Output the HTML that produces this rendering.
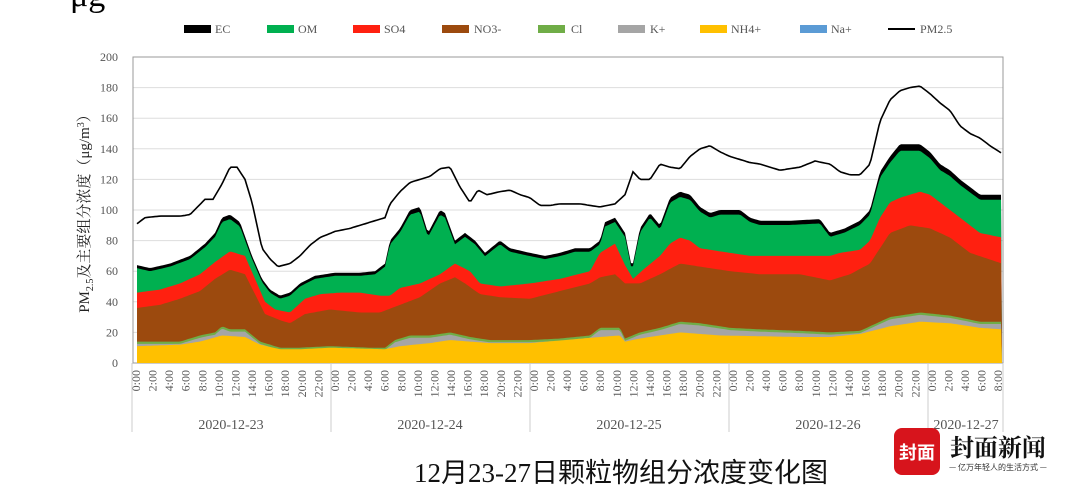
<!DOCTYPE html>
<html><head><meta charset="utf-8"><style>
body{margin:0;background:#fff;width:1080px;height:499px;overflow:hidden;}
svg{display:block}
</style></head><body>
<div id="w"></div>
<script>
(function(){
let h='';
const Y=v=>363-v*1.53;
h+=`<text x="70" y="6" font-size="34" fill="#000">μg</text>`;
for(let v=0;v<=200;v+=20){h+=`<line x1="133" x2="1003" y1="${Y(v)}" y2="${Y(v)}" stroke="${v==0?'#bbb':'#ddd'}" stroke-width="1"/>`;
h+=`<text x="118" y="${Y(v)+4}" font-size="12" fill="#555" text-anchor="end">${v}</text>`;}
h+=`<rect x="133" y="57" width="870" height="306" fill="none" stroke="#999" stroke-width="1"/>`;
function interp(a,x){for(let i=0;i<a.length-1;i++){if(x>=a[i][0]&&x<=a[i+1][0]){const t=(x-a[i][0])/(a[i+1][0]-a[i][0]);return a[i][1]+t*(a[i+1][1]-a[i][1]);}}return x<a[0][0]?a[0][1]:a[a.length-1][1];}
function parse(s){const r=[];s.trim().split(/,\s*/).forEach(t=>{const q=t.split(':');r.push([+q[0],+q[1]]);});return r;}
const pm=parse("137:91,145:95,160:96,180:96,190:97,205:107,213:107,222:117,230:128,237:128,245:120,252:105,262:75,270:68,278:63,290:65,300:70,310:77,320:82,335:86,350:88,360:90,375:93,385:95,390:104,400:112,410:118,420:120,430:122,440:127,450:128,460:115,470:105,478:113,487:110,500:112,510:113,520:110,530:108,540:103,550:103,560:104,580:104,600:102,615:104,625:110,633:125,640:120,650:120,660:130,670:128,680:127,690:135,700:140,710:142,720:138,730:135,740:133,750:131,760:130,770:128,780:126,790:127,800:128,815:132,830:130,840:125,850:123,860:123,870:130,880:158,890:172,900:178,910:180,920:181,930:176,940:170,950:165,960:155,970:150,980:147,990:142,1002:137");
const ec=parse("137:64,150:62,170:65,190:70,205:78,215:85,222:95,230:97,240:92,252:70,262:55,270:48,280:44,290:46,300:52,315:57,335:59,360:59,375:60,385:65,390:80,400:88,410:100,420:102,428:85,440:100,445:98,455:80,465:85,475:80,485:72,500:80,510:75,530:72,545:70,560:72,575:75,590:75,600:80,605:92,615:95,625:85,632:62,640:88,650:98,660:90,670:108,680:112,690:110,700:102,710:98,720:100,740:100,750:95,760:93,790:93,820:94,830:85,845:88,860:93,870:100,880:125,890:135,900:143,910:143,920:143,930:138,940:130,950:126,960:120,970:115,980:110,1002:110");
const so=parse("137:46,160:48,180:52,200:58,215:66,230:73,245:70,255:55,265:40,275:35,290:33,305:42,320:45,340:46,360:46,380:44,390:44,400:49,420:52,440:58,455:65,470:60,480:52,500:50,530:52,560:55,590:60,600:72,615:78,625:64,633:55,645:62,660:70,670:78,680:82,690:80,700:75,720:73,750:70,800:70,830:70,840:72,860:74,870:80,880:95,890:105,900:108,910:110,920:112,930:110,940:105,960:95,980:85,1002:82");
const no=parse("137:36,160:38,180:42,200:47,215:55,230:61,245:58,255:45,265:32,280:28,290:26,305:32,330:35,360:33,380:33,400:38,420:43,440:52,455:56,465:52,480:45,500:43,530:42,560:47,590:52,600:56,615:58,625:52,640:52,660:58,680:65,700:63,730:60,760:58,800:58,830:54,850:58,870:65,880:75,890:85,910:90,930:88,950:82,970:72,1002:65");
const cl=parse("137:14,180:14,200:18,215:20,222:24,230:22,245:22,260:14,280:10,300:10,330:11,370:10,385:10,395:15,410:18,430:18,450:20,470:17,490:15,530:15,560:16,590:18,600:23,620:23,625:16,640:20,660:23,680:27,700:26,730:23,760:22,800:21,830:20,860:21,870:24,890:30,920:33,950:31,980:27,1002:27");
const nh=parse("137:11,180:12,200:14,222:18,245:17,260:12,280:9,300:9,330:10,385:9,400:11,430:13,450:15,470:14,490:13,530:13,600:17,620:18,625:14,640:16,680:20,720:18,800:17,830:17,860:19,890:24,920:27,950:26,980:23,1002:22");
const xs=[];for(let x=137;x<=1002;x+=2)xs.push(x);
function curve(f){return xs.map(x=>[x,Y(f(x))]);}
function area(f,col){const pts=curve(f);let d=pts.map(p=>p[0]+','+p[1].toFixed(1)).join(' ');d+=' 1002,363 137,363';h+=`<polygon points="${d}" fill="${col}"/>`;}
const fec=x=>interp(ec,x), fom=x=>interp(ec,x)-Math.max(2,interp(ec,x)*0.03);
area(fec,'#000');area(fom,'#00b050');area(x=>interp(so,x),'#ff2010');area(x=>interp(no,x),'#9c4a0e');
area(x=>interp(cl,x),'#70ad47');area(x=>interp(cl,x)-1.5,'#a5a5a5');area(x=>interp(nh,x),'#ffc000');
h+=`<polyline points="${curve(x=>interp(pm,x)).map(p=>p[0]+','+p[1].toFixed(1)).join(' ')}" fill="none" stroke="#000" stroke-width="1.6"/>`;
for(let d=0;d<=4;d++){const x=132+d*199;h+=`<line x1="${x}" x2="${x}" y1="363" y2="432" stroke="#ccc"/>`;}
h+=`<line x1="1003" x2="1003" y1="363" y2="432" stroke="#ccc"/>`;
for(let i=0;i<105;i+=2){const x=136+i*8.29;const hr=i%24;h+=`<text transform="translate(${(x+4).toFixed(1)},370) rotate(-90)" font-size="12" fill="#555" text-anchor="end">${hr}:00</text>`;}
const days=['2020-12-23','2020-12-24','2020-12-25','2020-12-26','2020-12-27'];
days.forEach((d,i)=>{const cx=i<4?231+i*199:966;h+=`<text x="${cx}" y="429" font-size="14" fill="#555" text-anchor="middle">${d}</text>`;});
h+=`<text transform="translate(89,210) rotate(-90)" font-size="15" fill="#222" text-anchor="middle">PM<tspan font-size="10" dy="4">2.5</tspan><tspan dy="-4">及主要组分浓度（μg/m</tspan><tspan font-size="10" dy="-5">3</tspan><tspan dy="5">）</tspan></text>`;
const L=[[184,'#000','EC',215],[267,'#00b050','OM',298],[353,'#ff2010','SO4',384],[442,'#9c4a0e','NO3-',474],[538,'#70ad47','Cl',571],[618,'#a5a5a5','K+',650],[700,'#ffc000','NH4+',731],[800,'#5b9bd5','Na+',831]];
L.forEach(l=>{h+=`<rect x="${l[0]}" y="25" width="27" height="8" fill="${l[1]}"/><text x="${l[3]}" y="33" font-size="12" fill="#555">${l[2]}</text>`;});
h+=`<line x1="888" x2="915" y1="29" y2="29" stroke="#000" stroke-width="2"/><text x="920" y="33" font-size="12" fill="#555">PM2.5</text>`;
h+=`<text x="621" y="482" font-size="27" fill="#111" text-anchor="middle" font-family="Liberation Serif, Noto Sans CJK SC, serif">12月23-27日颗粒物组分浓度变化图</text>`;
h+=`<rect x="894" y="428" width="46" height="47" rx="8" fill="#d7141c"/><text x="917" y="459" font-size="18" font-weight="bold" fill="#fff" text-anchor="middle" font-family="Noto Sans CJK SC, sans-serif">封面</text>`;
h+=`<text x="998" y="456" font-size="24" font-weight="bold" fill="#111" text-anchor="middle" font-family="Noto Serif CJK SC, serif">封面新闻</text>`;
h+=`<text x="998" y="470" font-size="8" fill="#333" text-anchor="middle" font-family="Noto Sans CJK SC, sans-serif">— 亿万年轻人的生活方式 —</text>`;
document.getElementById('w').innerHTML='<svg width="1080" height="499" xmlns="http://www.w3.org/2000/svg" font-family="Liberation Serif, Noto Serif CJK SC, serif">'+h+'</svg>';
})();
</script>
</body></html>
